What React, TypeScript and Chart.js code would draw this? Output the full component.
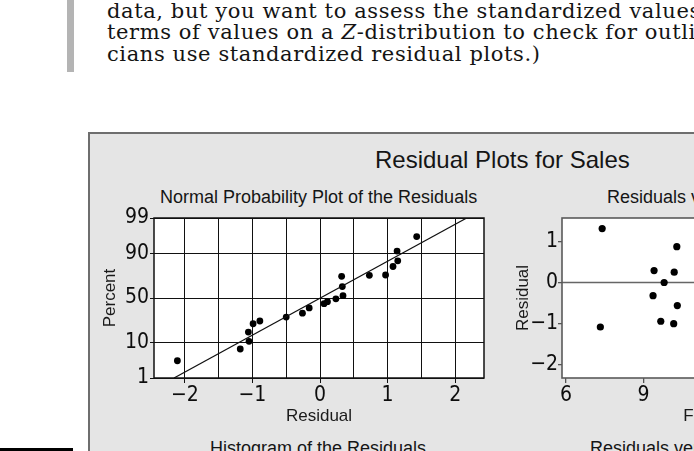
import React, { useEffect, useRef } from "react";
import { Chart, registerables } from "chart.js";
Chart.register(...registerables);

// ---- Normal probability plot data ----
const probResiduals = [-2.11, -1.18, -1.05, -1.06, -0.99, -0.89, -0.5, -0.26, -0.16, 0.06, 0.11, 0.235, 0.34, 0.33, 0.32, 0.73, 0.97, 1.08, 1.15, 1.14, 1.43];
const probPercents = [3.4, 6.9, 10.4, 16.1, 22.7, 25.2, 29, 33, 38.6, 43.4, 45.7, 49, 52.7, 63, 73.6, 74.5, 74.8, 82, 86, 91.4, 96.3];
const fitLineResiduals = [-2.16, 2.17];
const fitLinePercents = [1, 99];
const percentTicks = [1, 10, 50, 90, 99];
const residualTicks = [-2, -1.5, -1, -0.5, 0, 0.5, 1, 1.5, 2];

// ---- Residuals versus fits data ----
const fittedValues = [7.4, 10.29, 9.41, 10.19, 9.8, 9.37, 10.31, 9.67, 10.17, 7.33];
const fitResiduals = [1.31, 0.87, 0.29, 0.25, 0.0, -0.32, -0.56, -0.94, -1.0, -1.08];
const fittedTicks = [6, 9, 12, 15, 18];
const residualAxisTicks = [-2, -1, 0, 1];
const referenceLines = [0];

const SANS = '"Liberation Sans", Arial, sans-serif';
const NARROW = '"Liberation Sans Narrow", "DejaVu Sans Condensed", "Liberation Sans", sans-serif';

// inverse standard normal CDF (probability-paper scale transform)
function probit(p: number): number {
  const a = [-3.969683028665376e1, 2.209460984245205e2, -2.759285104469687e2, 1.38357751867269e2, -3.066479806614716e1, 2.506628277459239];
  const b = [-5.447609879822406e1, 1.615858368580409e2, -1.556989798598866e2, 6.680131188771972e1, -1.328068155288572e1];
  const c = [-7.784894002430293e-3, -3.223964580411365e-1, -2.400758276357156, -2.549671010115955, 4.374664141464968, 2.938163982698783];
  const d = [7.784695709041462e-3, 3.224671290700398e-1, 2.445134137142996, 3.754408661907416];
  const pl = 0.02425;
  if (p < pl) {
    const q = Math.sqrt(-2 * Math.log(p));
    return (((((c[0] * q + c[1]) * q + c[2]) * q + c[3]) * q + c[4]) * q + c[5]) / ((((d[0] * q + d[1]) * q + d[2]) * q + d[3]) * q + 1);
  }
  if (p <= 1 - pl) {
    const q = p - 0.5, r = q * q;
    return ((((((a[0] * r + a[1]) * r + a[2]) * r + a[3]) * r + a[4]) * r + a[5]) * q) / (((((b[0] * r + b[1]) * r + b[2]) * r + b[3]) * r + b[4]) * r + 1);
  }
  const q = Math.sqrt(-2 * Math.log(1 - p));
  return -(((((c[0] * q + c[1]) * q + c[2]) * q + c[3]) * q + c[4]) * q + c[5]) / ((((d[0] * q + d[1]) * q + d[2]) * q + d[3]) * q + 1);
}
const zOf = (pct: number) => probit(pct / 100);

const fmt = (v: number) => (v < 0 ? "\u2212" + Math.abs(v) : String(v));

const plotAreaPlugin = {
  id: "plotArea",
  beforeDraw(chart: any) {
    const { ctx, chartArea } = chart;
    if (!chartArea) return;
    ctx.save();
    ctx.fillStyle = "#ffffff";
    ctx.fillRect(chartArea.left, chartArea.top, chartArea.right - chartArea.left, chartArea.bottom - chartArea.top);
    ctx.restore();
  },
  beforeDatasetsDraw(chart: any, _a: any, opts: any) {
    const { ctx, chartArea } = chart;
    const { left, top, right, bottom } = chartArea;
    ctx.save();
    if (opts.refValues) {
      const ys = chart.scales.y;
      ctx.strokeStyle = opts.refColor;
      ctx.lineWidth = opts.refWidth;
      for (const v of opts.refValues) {
        const py = ys.getPixelForValue(v);
        ctx.beginPath();
        ctx.moveTo(left, py);
        ctx.lineTo(right, py);
        ctx.stroke();
      }
    }
    ctx.strokeStyle = opts.color;
    ctx.lineWidth = opts.width;
    ctx.strokeRect(left, top, right - left, bottom - top);
    ctx.restore();
  },
};

function ProbPlot() {
  const ref = useRef<HTMLCanvasElement>(null);
  useEffect(() => {
    const chart = new Chart(ref.current!, {
      type: "scatter",
      data: {
        datasets: [
          {
            type: "line",
            data: fitLineResiduals.map((r, i) => ({ x: r, y: zOf(fitLinePercents[i]) })),
            borderColor: "#111",
            borderWidth: 1.2,
            pointRadius: 0,
            fill: false,
          } as any,
          {
            data: probResiduals.map((r, i) => ({ x: r, y: zOf(probPercents[i]) })),
            backgroundColor: "#000",
            borderWidth: 0,
            pointRadius: 3.4,
          },
        ],
      },
      plugins: [plotAreaPlugin],
      options: {
        animation: false,
        responsive: false,
        devicePixelRatio: 1,
        layout: { padding: { left: 0, top: 84, right: 2, bottom: 0 } },
        plugins: {
          legend: { display: false },
          tooltip: { enabled: false },
          plotArea: { color: "#111", width: 1.5 },
        } as any,
        scales: {
          x: {
            type: "linear",
            min: -2.456,
            max: 2.426,
            afterBuildTicks: (s: any) => { s.ticks = residualTicks.map((v) => ({ value: v })); },
            afterFit: (s: any) => { s.height = 56; },
            border: { display: false },
            grid: {
              color: "#111",
              lineWidth: 1,
              tickLength: 5,
              tickColor: (c: any) => (c.tick && Number.isInteger(c.tick.value) ? "#111" : "rgba(0,0,0,0)"),
            },
            ticks: {
              padding: 0,
              color: "#0d0d0d",
              font: { family: NARROW, size: 21 },
              maxRotation: 0,
              autoSkip: false,
              callback: (v: any) => (Number.isInteger(Number(v)) ? fmt(Number(v)) : ""),
            },
            title: { display: true, text: "Residual", color: "#1a1a1a", font: { family: SANS, size: 17 }, padding: { top: 0, bottom: 7 } },
          },
          y: {
            type: "linear",
            min: zOf(1),
            max: zOf(99),
            afterBuildTicks: (s: any) => { s.ticks = percentTicks.map((p) => ({ value: zOf(p) })); },
            afterFit: (s: any) => { s.width = 66; },
            border: { display: false },
            grid: { color: "#111", lineWidth: 1, tickLength: 4, tickColor: "#111" },
            ticks: {
              padding: 1,
              color: "#0d0d0d",
              font: { family: NARROW, size: 21 },
              autoSkip: false,
              callback: (_v: any, i: number) => String(percentTicks[i]),
            },
            title: { display: true, text: "Percent", color: "#1a1a1a", font: { family: SANS, size: 17 }, padding: { top: 12, bottom: 0 } },
          },
        },
      },
    });
    return () => chart.destroy();
  }, []);
  return <canvas ref={ref} width={400} height={300} style={{ position: "absolute", left: 88, top: 134, width: 400, height: 300 }} />;
}

function FitsPlot() {
  const ref = useRef<HTMLCanvasElement>(null);
  useEffect(() => {
    const chart = new Chart(ref.current!, {
      type: "scatter",
      data: {
        datasets: [
          {
            data: fittedValues.map((f, i) => ({ x: f, y: fitResiduals[i] })),
            backgroundColor: "#000",
            borderWidth: 0,
            pointRadius: 3.6,
          },
        ],
      },
      plugins: [plotAreaPlugin],
      options: {
        animation: false,
        responsive: false,
        devicePixelRatio: 1,
        layout: { padding: { left: 0, top: 84, right: 16, bottom: 0 } },
        plugins: {
          legend: { display: false },
          tooltip: { enabled: false },
          plotArea: { color: "#5a5a5a", width: 1.6, refValues: referenceLines, refColor: "#666", refWidth: 1.3 },
        } as any,
        scales: {
          x: {
            type: "linear",
            min: 5.845,
            max: 18.7,
            afterBuildTicks: (s: any) => { s.ticks = fittedTicks.map((v) => ({ value: v })); },
            afterFit: (s: any) => { s.height = 56; },
            border: { display: false },
            grid: { drawOnChartArea: false, tickLength: 5, tickColor: "#555", lineWidth: 1.3 },
            ticks: { padding: 0, color: "#0d0d0d", font: { family: NARROW, size: 21 }, maxRotation: 0, autoSkip: false, callback: (v: any) => fmt(Number(v)) },
            title: { display: true, text: "Fitted Value", color: "#1a1a1a", font: { family: SANS, size: 17 }, padding: { top: 0, bottom: 7 } },
          },
          y: {
            type: "linear",
            min: -2.318,
            max: 1.566,
            afterBuildTicks: (s: any) => { s.ticks = residualAxisTicks.map((v) => ({ value: v })); },
            afterFit: (s: any) => { s.width = 72; },
            border: { display: false },
            grid: { drawOnChartArea: false, tickLength: 4, tickColor: "#555", lineWidth: 1.3 },
            ticks: { padding: 0, color: "#0d0d0d", font: { family: NARROW, size: 21 }, autoSkip: false, callback: (v: any) => fmt(Number(v)) },
            title: { display: true, text: "Residual", color: "#1a1a1a", font: { family: SANS, size: 17 }, padding: { top: 23, bottom: 0 } },
          },
        },
      },
    });
    return () => chart.destroy();
  }, []);
  return <canvas ref={ref} width={420} height={300} style={{ position: "absolute", left: 490, top: 134, width: 420, height: 300 }} />;
}

const txt = (left: number, top: number, size: number, text: React.ReactNode): React.ReactElement => (
  <div style={{ position: "absolute", left, top, fontFamily: SANS, fontSize: size, lineHeight: 1, color: "#151515", whiteSpace: "nowrap" }}>{text}</div>
);

export default function App() {
  return (
    <div style={{ position: "fixed", left: 0, top: 0, width: 694, height: 451, overflow: "hidden", background: "#fff" }}>
      <div style={{ position: "absolute", left: 67, top: 0, width: 7, height: 72, background: "#b4b4b4" }} />
      <div style={{ position: "absolute", left: 107, top: 0.5, fontFamily: '"DejaVu Serif", serif', fontSize: 21, lineHeight: "21.7px", letterSpacing: "0.6px", color: "#141414", whiteSpace: "nowrap" }}>
        <div>data, but you want to assess the standardized values in</div>
        <div>terms of values on a <i>Z</i>-distribution to check for outliers</div>
        <div>cians use standardized residual plots.)</div>
      </div>
      <div style={{ position: "absolute", left: 0, top: 448, width: 73, height: 4, background: "#000" }} />
      <div style={{ position: "absolute", left: 88, top: 132, width: 640, height: 340, background: "#e5e5e5", borderLeft: "2px solid #6e6e6e", borderTop: "2px solid #6e6e6e", boxSizing: "border-box" }} />
      {txt(375, 148, 24, "Residual Plots for Sales")}
      {txt(160, 188, 18, "Normal Probability Plot of the Residuals")}
      {txt(607, 187.5, 18, "Residuals versus the Fitted Values")}
      {txt(210, 439, 18, "Histogram of the Residuals")}
      {txt(590, 439, 18, "Residuals versus the Order of the Data")}
      <ProbPlot />
      <FitsPlot />
    </div>
  );
}
